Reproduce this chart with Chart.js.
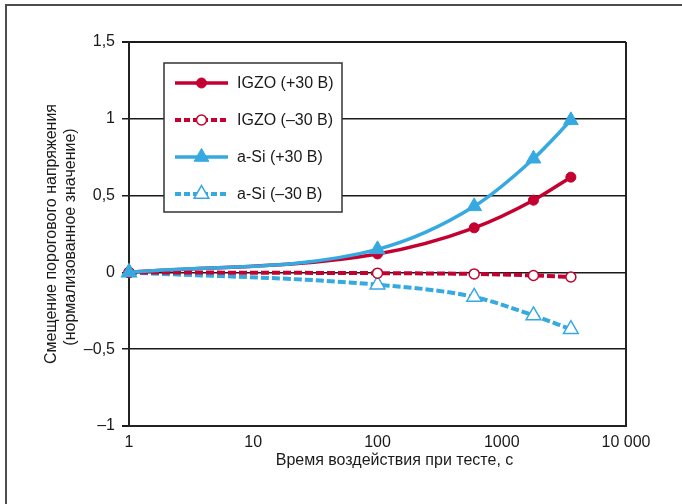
<!DOCTYPE html>
<html>
<head>
<meta charset="utf-8">
<script src="https://cdn.jsdelivr.net/npm/chart.js@4/dist/chart.umd.min.js"></script>
<style>
  html, body { margin: 0; padding: 0; background: #ffffff; }
  #wrap { width: 682px; height: 504px; }
</style>
</head>
<body>
<div id="wrap"><canvas id="c" width="682" height="504"></canvas></div>
<script>
// Stress time, s (log axis)
const times = [1, 100, 600, 1800, 3600];

// Normalised threshold-voltage shift per device / bias
const igzoPos = [0, 0.12, 0.29, 0.47, 0.62];
const igzoNeg = [0, -0.005, -0.01, -0.02, -0.03];
const asiPos  = [0, 0.15, 0.43, 0.74, 0.99];
const asiNeg  = [0, -0.08, -0.16, -0.28, -0.37];

const seriesLabels = ['IGZO (+30 В)', 'IGZO (–30 В)', 'a-Si (+30 В)', 'a-Si (–30 В)'];

// Axis ticks
const xTickValues = [1, 10, 100, 1000, 10000];
const xTickLabels = ['1', '10', '100', '1000', '10 000'];
const yTickValues = [-1, -0.5, 0, 0.5, 1, 1.5];
const yTickLabels = ['–1', '–0,5', '0', '0,5', '1', '1,5'];

const xTitle = 'Время воздействия при тесте, с';
const yTitle = ['Смещение порогового напряжения', '(нормализованное значение)'];

const RED = '#c3002f';
const BLUE = '#36a9e1';
const FONT = '"Liberation Sans", Arial, sans-serif';

function pts(ys) { return times.map((t, i) => ({ x: t, y: ys[i] })); }

const datasets = [
  {
    label: seriesLabels[0], data: pts(igzoPos),
    borderColor: RED, backgroundColor: RED, borderWidth: 3.5,
    pointStyle: 'circle', pointRadius: 5, pointBackgroundColor: RED,
    pointBorderColor: RED, pointBorderWidth: 1, order: 1
  },
  {
    label: seriesLabels[1], data: pts(igzoNeg),
    borderColor: RED, backgroundColor: '#ffffff', borderWidth: 4, borderDash: [8, 3],
    pointStyle: 'circle', pointRadius: 5, pointBackgroundColor: '#ffffff',
    pointBorderColor: RED, pointBorderWidth: 1.5, order: 2
  },
  {
    label: seriesLabels[2], data: pts(asiPos),
    borderColor: BLUE, backgroundColor: BLUE, borderWidth: 3.5,
    pointStyle: 'triangle', pointRadius: 8.5, pointBackgroundColor: BLUE,
    pointBorderColor: BLUE, pointBorderWidth: 1, order: 0
  },
  {
    label: seriesLabels[3], data: pts(asiNeg),
    borderColor: BLUE, backgroundColor: '#ffffff', borderWidth: 4, borderDash: [8, 3],
    pointStyle: 'triangle', pointRadius: 8.5, pointBackgroundColor: '#ffffff',
    pointBorderColor: BLUE, pointBorderWidth: 1.5, order: 3
  }
];

// White page with a thin frame on the left and top edges
const pageFrame = {
  id: 'pageFrame',
  beforeDraw(chart) {
    const ctx = chart.ctx;
    ctx.save();
    ctx.fillStyle = '#ffffff';
    ctx.fillRect(0, 0, chart.width, chart.height);
    ctx.strokeStyle = '#4d4d4d';
    ctx.lineWidth = 2;
    ctx.beginPath();
    ctx.moveTo(6, chart.height);
    ctx.lineTo(6, 5);
    ctx.lineTo(chart.width, 5);
    ctx.stroke();
    ctx.restore();
  }
};

// Axis titles
const axisTitles = {
  id: 'axisTitles',
  afterDraw(chart) {
    const ctx = chart.ctx;
    const a = chart.chartArea;
    const cy = (a.top + a.bottom) / 2;
    ctx.save();
    ctx.fillStyle = '#1a1a1a';
    ctx.font = '16px ' + FONT;
    ctx.textAlign = 'center';
    ctx.textBaseline = 'alphabetic';
    ctx.fillText(xTitle, 394.5, 465);
    ctx.translate(56, cy);
    ctx.rotate(-Math.PI / 2);
    ctx.fillText(yTitle[0], 0, 0);
    ctx.fillText(yTitle[1], -3, 19);
    ctx.restore();
  }
};

// Boxed legend inside the plot area
const boxLegend = {
  id: 'boxLegend',
  afterDatasetsDraw(chart) {
    const ctx = chart.ctx;
    const a = chart.chartArea;
    const left = a.left + 35, top = a.top + 21, w = 178, h = 149;
    ctx.save();
    ctx.fillStyle = '#ffffff';
    ctx.fillRect(left, top, w, h);
    ctx.strokeStyle = '#333333';
    ctx.lineWidth = 1.5;
    ctx.strokeRect(left, top, w, h);
    chart.data.datasets.forEach((ds, i) => {
      const y = top + 20 + i * 37;
      const x0 = left + 11, x1 = left + 64, xm = (x0 + x1) / 2;
      ctx.save();
      ctx.strokeStyle = ds.borderColor;
      ctx.lineWidth = ds.borderWidth;
      ctx.setLineDash(ds.borderDash ? [6, 3] : []);
      ctx.beginPath();
      ctx.moveTo(x0, y);
      ctx.lineTo(x1, y);
      ctx.stroke();
      ctx.setLineDash([]);
      ctx.fillStyle = ds.pointBackgroundColor;
      ctx.strokeStyle = ds.pointBorderColor;
      ctx.lineWidth = ds.pointBorderWidth;
      Chart.helpers.drawPoint(ctx, {
        pointStyle: ds.pointStyle, radius: ds.pointRadius,
        rotation: 0, borderWidth: ds.pointBorderWidth
      }, xm, y);
      ctx.restore();
      ctx.fillStyle = '#1a1a1a';
      ctx.font = '16px ' + FONT;
      ctx.textAlign = 'left';
      ctx.textBaseline = 'middle';
      ctx.fillText(ds.label, left + 73, y + 1);
    });
    ctx.restore();
  }
};

new Chart(document.getElementById('c'), {
  type: 'line',
  data: { datasets },
  options: {
    responsive: false,
    animation: false,
    devicePixelRatio: 1,
    layout: { padding: { left: 0, top: 42, right: 56, bottom: 0 } },
    elements: {
      line: { cubicInterpolationMode: 'monotone', fill: false },
      point: { hoverRadius: 5 }
    },
    datasets: { line: { clip: false } },
    plugins: {
      legend: { display: false },
      tooltip: { enabled: false },
      title: { display: false }
    },
    scales: {
      x: {
        type: 'logarithmic',
        min: 1, max: 10000,
        afterBuildTicks(s) { s.ticks = xTickValues.map(v => ({ value: v })); },
        afterFit(s) { s.height = 78; },
        ticks: {
          autoSkip: false, maxRotation: 0, padding: 7,
          color: '#1a1a1a', font: { family: FONT, size: 16 },
          callback: (v, i) => xTickLabels[i]
        },
        grid: {
          drawTicks: false,
          lineWidth: 2,
          color: c => (c.tick && c.tick.value === 10000) ? '#222222' : 'rgba(0,0,0,0)'
        },
        border: { display: true, color: '#222222', width: 2 }
      },
      y: {
        type: 'linear',
        min: -1, max: 1.5,
        afterBuildTicks(s) { s.ticks = yTickValues.map(v => ({ value: v })); },
        afterFit(s) { s.width = 129; },
        ticks: {
          padding: 7,
          color: '#1a1a1a', font: { family: FONT, size: 16 },
          callback: (v, i) => yTickLabels[i]
        },
        grid: {
          tickLength: 7,
          color: '#1a1a1a',
          lineWidth: c => (c.tick && (c.tick.value === 1.5 || c.tick.value === -1)) ? 2 : 1.5
        },
        border: { display: true, color: '#222222', width: 2 }
      }
    }
  },
  plugins: [pageFrame, axisTitles, boxLegend]
});
</script>
</body>
</html>
